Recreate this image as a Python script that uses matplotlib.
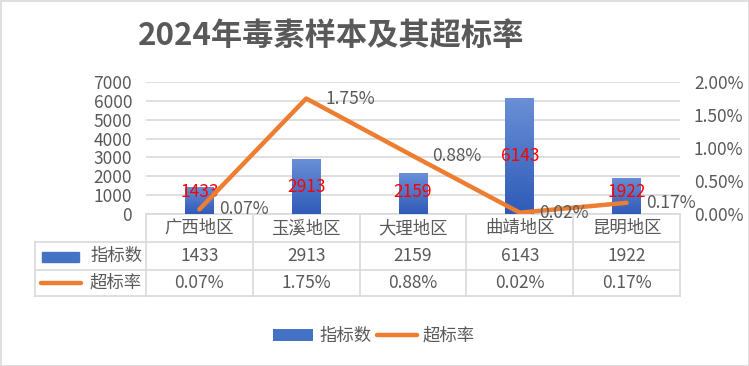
import numpy as np
import matplotlib.pyplot as plt
import matplotlib.transforms as mtransforms
from matplotlib.colors import LinearSegmentedColormap
from matplotlib.lines import Line2D
from matplotlib.patches import Rectangle

plt.rcParams['font.family'] = ['Noto Sans CJK SC', 'DejaVu Sans']

# data
regions = ['广西地区', '玉溪地区', '大理地区', '曲靖地区', '昆明地区']
counts = [1433, 2913, 2159, 6143, 1922]
rates = [0.07, 1.75, 0.88, 0.02, 0.17]  # percent
title = '2024年毒素样本及其超标率'
bar_name = '指标数'
line_name = '超标率'

W, H = 749, 366
fig = plt.figure(figsize=(W / 100, H / 100), dpi=100)

def fx(px):
    return px / W

def fy(py):
    return 1 - py / H

grid_c = '#d9d9d9'
txt_c = '#595959'
blue = '#4472c4'
orange = '#ed7d31'
fs = 12.5

ax = fig.add_axes([fx(146), fy(214), fx(680) - fx(146), fy(82) - fy(214)])
ax2 = ax.twinx()

x = np.arange(len(regions))
bars = ax.bar(x, counts, width=0.27, color=blue, zorder=2)

# vertical gradient on bars
cmap = LinearSegmentedColormap.from_list('bg', ['#2f5bb8', '#6a8fd6'])
grad = np.linspace(0, 1, 100).reshape(-1, 1)
for b in bars:
    im = ax.imshow(grad, extent=[b.get_x(), b.get_x() + b.get_width(), 0, b.get_height()],
                   origin='lower', aspect='auto', cmap=cmap, zorder=2.1)
    im.set_clip_path(b)

ax.set_xlim(-0.5, len(regions) - 0.5)
ax.set_ylim(0, 7000)
ax.set_yticks(np.arange(0, 7001, 1000))
ax.set_xticks([])
ax.grid(axis='y', color=grid_c, lw=1.2, zorder=0)
ax.set_axisbelow(True)
ax.tick_params(axis='y', length=0, pad=10, labelsize=fs, labelcolor=txt_c)

for i, v in enumerate(counts):
    ax.text(i, max(v / 2, 1170), str(v), ha='center', va='center', color='#ff0000',
            fontsize=fs, zorder=5)

ax2.plot(x, rates, color=orange, lw=3.2, solid_capstyle='round', zorder=4)
ax2.set_ylim(0, 2.0)
ax2.set_yticks(np.arange(0, 2.01, 0.5))
ax2.set_yticklabels(['%.2f%%' % t for t in np.arange(0, 2.01, 0.5)])
ax2.tick_params(axis='y', length=0, pad=10, labelsize=fs, labelcolor=txt_c)
for i, r in enumerate(rates):
    ax2.annotate('%.2f%%' % r, (i, r), xytext=(14, 0), textcoords='offset points',
                 ha='left', va='center', color=txt_c, fontsize=fs, zorder=5)

for a in (ax, ax2):
    for s in a.spines.values():
        s.set_visible(False)

# data table below the plot
tr = mtransforms.blended_transform_factory(ax.transData, fig.transFigure)
n = len(regions)
ys = [214, 242, 270, 296]
ax.add_line(Line2D([-0.5, n - 0.5], [fy(214), fy(214)], transform=tr, color=grid_c, lw=1.2, clip_on=False))
for py in ys[1:]:
    fig.add_artist(Line2D([fx(35), fx(680)], [fy(py), fy(py)], color=grid_c, lw=1.2))
for k in range(n + 1):
    ax.add_line(Line2D([k - 0.5, k - 0.5], [fy(214), fy(296)], transform=tr, color=grid_c,
                       lw=1.2, clip_on=False))
fig.add_artist(Line2D([fx(35), fx(35)], [fy(242), fy(296)], color=grid_c, lw=1.2))

for i in range(n):
    ax.text(i, fy(228), regions[i], transform=tr, ha='center', va='center', fontsize=fs, color=txt_c)
    ax.text(i, fy(256), str(counts[i]), transform=tr, ha='center', va='center', fontsize=fs, color=txt_c)
    ax.text(i, fy(283), '%.2f%%' % rates[i], transform=tr, ha='center', va='center', fontsize=fs, color=txt_c)

fig.add_artist(Rectangle((fx(42), fy(262)), fx(79) - fx(42), fy(252) - fy(262), color=blue))
fig.text(fx(90), fy(256), bar_name, ha='left', va='center', fontsize=fs, color=txt_c)
fig.add_artist(Line2D([fx(41), fx(81)], [fy(283), fy(283)], color=orange, lw=3.2, solid_capstyle='round'))
fig.text(fx(90), fy(283), line_name, ha='left', va='center', fontsize=fs, color=txt_c)

# bottom legend
fig.legend([bars, Line2D([], [], color=orange, lw=3.2, solid_capstyle='round')], [bar_name, line_name],
           loc='center', bbox_to_anchor=(fx(374), fy(336)), ncol=2, frameon=False,
           fontsize=fs, labelcolor=txt_c, handlelength=2.3, handleheight=0.7,
           handletextpad=0.35, columnspacing=0.3)

fig.text(fx(138), fy(36), title, ha='left', va='center', fontsize=22.5, fontweight='bold', color='#595959')

fig.add_artist(Rectangle((0.5 / W, 0.5 / H), 1 - 1 / W, 1 - 1 / H, fill=False, edgecolor=grid_c, lw=1.2))

fig.savefig('out.png', dpi=100)
